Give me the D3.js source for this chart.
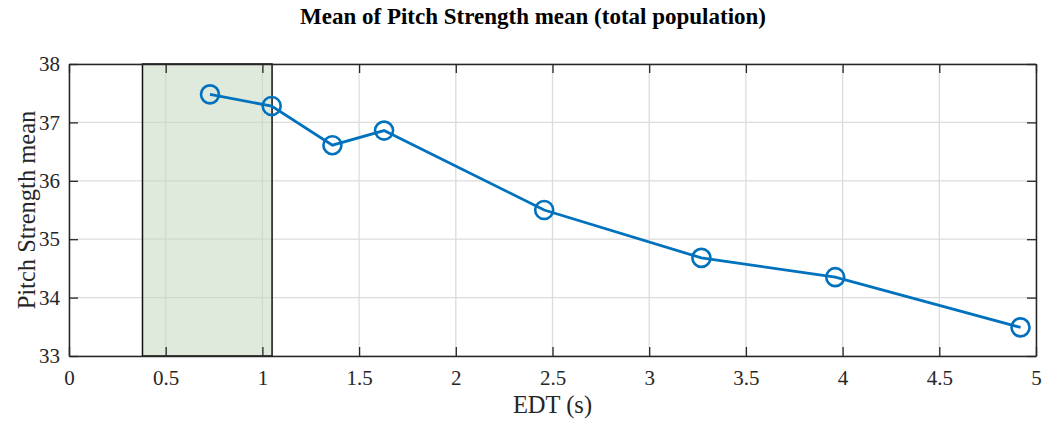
<!DOCTYPE html>
<html>
<head>
<meta charset="utf-8">
<script src="https://cdn.jsdelivr.net/npm/d3@7"></script>
<style>
  body { margin: 0; background: #fff; }
  svg text { font-family: "Liberation Serif", "Times New Roman", serif !important; }
  .tick text { font-size: 21px !important; fill: #262626; }
</style>
</head>
<body>
<svg id="chart" width="1042" height="423"></svg>
<script>
// EDT values (s) and mean pitch strength
const edt = [0.729, 1.048, 1.362, 1.629, 2.457, 3.270, 3.962, 4.920];
const pitchStrength = [37.48, 37.28, 36.61, 36.86, 35.50, 34.68, 34.35, 33.49];

// shaded band on the x axis
const band = [0.38, 1.05];

const xTicks = [0, 0.5, 1, 1.5, 2, 2.5, 3, 3.5, 4, 4.5, 5];
const yTicks = [33, 34, 35, 36, 37, 38];

const margin = { top: 64, right: 6, bottom: 67, left: 69 };
const width = 1042, height = 423;

const svg = d3.select("#chart");

const x = d3.scaleLinear().domain([0, 5]).range([margin.left, width - margin.right]);
const y = d3.scaleLinear().domain([33, 38]).range([height - margin.bottom, margin.top]);

// grid
svg.append("g")
  .selectAll("line")
  .data(xTicks)
  .join("line")
  .attr("x1", d => x(d)).attr("x2", d => x(d))
  .attr("y1", y(33)).attr("y2", y(38))
  .attr("stroke", "#dcdcdc").attr("stroke-width", 1.3);

svg.append("g")
  .selectAll("line")
  .data(yTicks)
  .join("line")
  .attr("x1", x(0)).attr("x2", x(5))
  .attr("y1", d => y(d)).attr("y2", d => y(d))
  .attr("stroke", "#dcdcdc").attr("stroke-width", 1.3);

// shaded band
svg.append("rect")
  .attr("x", x(band[0]))
  .attr("y", y(38))
  .attr("width", x(band[1]) - x(band[0]))
  .attr("height", y(33) - y(38))
  .attr("fill", "#c5d9c1")
  .attr("fill-opacity", 0.55)
  .attr("stroke", "#111")
  .attr("stroke-width", 1.5);

// axes with inward ticks (box style)
const tickLen = 9;
const fmt = d3.format("~g");
const gx = svg.append("g").attr("transform", `translate(0,${y(33)})`)
  .call(d3.axisBottom(x).tickValues(xTicks).tickSizeInner(-tickLen).tickSizeOuter(0)
    .tickPadding(14).tickFormat(fmt));
const gy = svg.append("g").attr("transform", `translate(${x(0)},0)`)
  .call(d3.axisLeft(y).tickValues(yTicks).tickSizeInner(-tickLen).tickSizeOuter(0)
    .tickPadding(9).tickFormat(fmt));

svg.append("g").attr("transform", `translate(0,${y(38)})`)
  .call(d3.axisTop(x).tickValues(xTicks).tickSizeInner(-tickLen).tickSizeOuter(0).tickFormat(""));
svg.append("g").attr("transform", `translate(${x(5)},0)`)
  .call(d3.axisRight(y).tickValues(yTicks).tickSizeInner(-tickLen).tickSizeOuter(0).tickFormat(""));

svg.selectAll(".domain").attr("stroke", "#262626").attr("stroke-width", 1.5);
svg.selectAll(".tick line").attr("stroke", "#262626").attr("stroke-width", 1.3);

// line + markers
const pts = edt.map((d, i) => [d, pitchStrength[i]]);
const line = d3.line().x(d => x(d[0])).y(d => y(d[1]));

svg.append("path")
  .datum(pts)
  .attr("d", line)
  .attr("fill", "none")
  .attr("stroke", "#0072bd")
  .attr("stroke-width", 2.8);

svg.append("g")
  .selectAll("circle")
  .data(pts)
  .join("circle")
  .attr("cx", d => x(d[0]))
  .attr("cy", d => y(d[1]))
  .attr("r", 9)
  .attr("fill", "none")
  .attr("stroke", "#0072bd")
  .attr("stroke-width", 2.6);

// labels
svg.append("text")
  .attr("x", 533).attr("y", 24)
  .attr("text-anchor", "middle")
  .style("font-size", "23px").style("font-weight", "bold")
  .attr("fill", "#000")
  .text("Mean of Pitch Strength mean (total population)");

svg.append("text")
  .attr("x", (x(0) + x(5)) / 2).attr("y", 413)
  .attr("text-anchor", "middle")
  .style("font-size", "24.5px").attr("fill", "#262626")
  .text("EDT (s)");

svg.append("text")
  .attr("transform", `translate(35,${(y(33) + y(38)) / 2}) rotate(-90)`)
  .attr("text-anchor", "middle")
  .style("font-size", "24.5px").attr("fill", "#262626")
  .text("Pitch Strength mean");
</script>
</body>
</html>
